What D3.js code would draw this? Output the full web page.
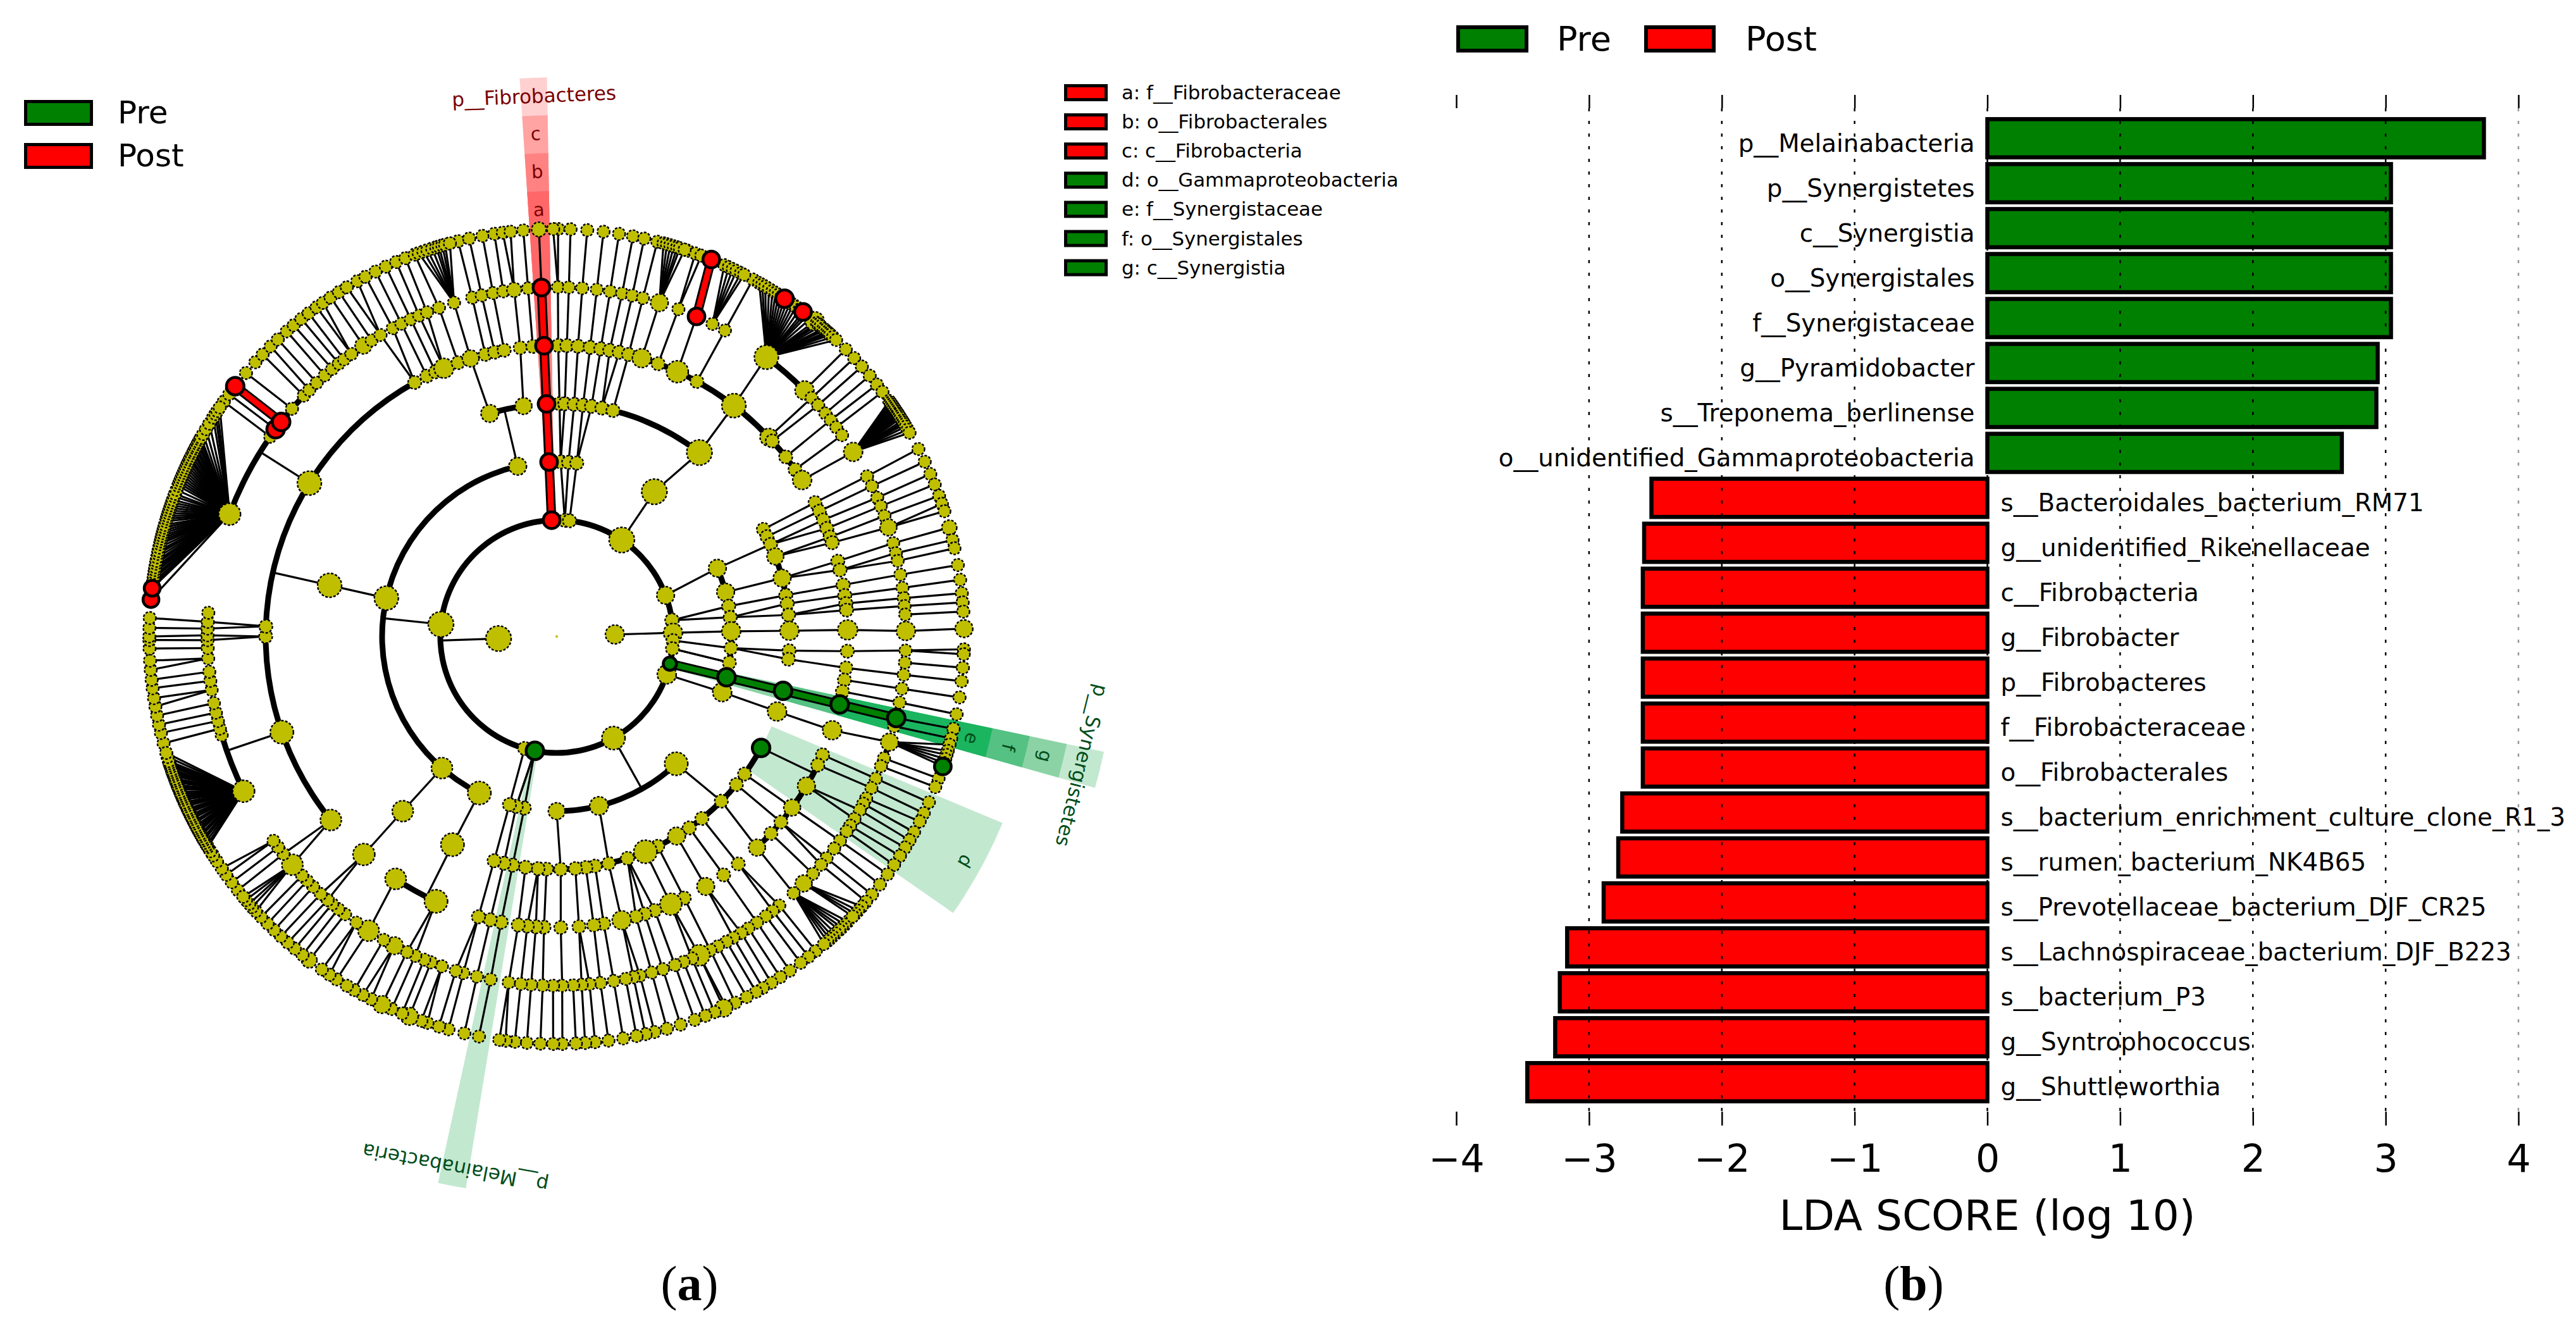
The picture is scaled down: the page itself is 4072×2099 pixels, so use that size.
<!DOCTYPE html>
<html><head><meta charset="utf-8">
<script src="https://cdn.jsdelivr.net/npm/d3@7/dist/d3.min.js"></script>
<style>
html,body{margin:0;padding:0;background:#fff}
svg{display:block}
text{font-family:"DejaVu Sans",sans-serif}
</style></head><body>
<svg id="chart" width="4072" height="2099" viewBox="0 0 4072 2099"></svg>
<script>
// ---------- (b) LDA bar chart data ----------
const barNames = ["p__Melainabacteria","p__Synergistetes","c__Synergistia","o__Synergistales","f__Synergistaceae","g__Pyramidobacter","s__Treponema_berlinense","o__unidentified_Gammaproteobacteria","s__Bacteroidales_bacterium_RM71","g__unidentified_Rikenellaceae","c__Fibrobacteria","g__Fibrobacter","p__Fibrobacteres","f__Fibrobacteraceae","o__Fibrobacterales","s__bacterium_enrichment_culture_clone_R1_3","s__rumen_bacterium_NK4B65","s__Prevotellaceae_bacterium_DJF_CR25","s__Lachnospiraceae_bacterium_DJF_B223","s__bacterium_P3","g__Syntrophococcus","g__Shuttleworthia"];
const barScores = [3.74,3.04,3.04,3.04,3.04,2.94,2.93,2.67,-2.53,-2.585,-2.595,-2.595,-2.595,-2.595,-2.595,-2.75,-2.78,-2.89,-3.165,-3.22,-3.255,-3.465];
const xTicks = [-4,-3,-2,-1,0,1,2,3,4];
const groupNames = ["Pre","Post"];
const cladeKey = [["a: f__Fibrobacteraceae","Post"],["b: o__Fibrobacterales","Post"],["c: c__Fibrobacteria","Post"],["d: o__Gammaproteobacteria","Pre"],["e: f__Synergistaceae","Pre"],["f: o__Synergistales","Pre"],["g: c__Synergistia","Pre"]];

// ---------- (a) cladogram data: taxon angle (degrees clockwise from the top) per rank ----------
const rootTaxa = [0];
const kingdoms = [88,268];
const phyla = [357.5,4,6.3,34,69.3,82,88.2,92,96,103.5,109,150.8,190.8,196,276];
const classes = [357.5,1.3,3.9,6.6,34,67,75.3,80,83.7,88.3,93.8,98.6,103.5,108.6,136.8,166,180,190.7,193.4,195.7,206.3,221.1,282.7,347.1];
const orders = [357.5,0.7,2,4.3,6.5,8.6,11.2,14,37.8,62.6,64.6,66.7,69.9,75.5,79.8,81.9,84.7,88.6,93.5,95.6,103.5,108.8,118.6,126.2,129.5,135,141.4,145.3,149,154.3,157.6,162.3,167.1,170.5,172.8,175.4,179,182.5,184.6,187.7,190.9,193.1,195.6,206.6,221.4,282.7,343.3,351.8];
const families = [357.5,0.3,2,4.2,6.6,8.7,10.5,12.4,14.3,17,20.4,24.5,28.8,37.5,46.8,47.8,51.9,55,57.5,62.6,64.5,66.4,68.2,70,71.2,75,76.8,79.8,81.9,83.5,84.8,88.7,92.9,96.2,98.6,100.9,103.5,108.8,114,116.2,120.9,126,129.6,132.6,136.5,141.4,145,149.2,154,156.9,160.3,162.4,164.2,167.1,170.7,172.7,175.6,179.2,182.5,184.1,185.8,187.6,191,193.2,195.6,204.5,213.6,221.5,230.9,250.8,270,272,301.8,330.8,333.5,335.4,337.2,340.2,342.8,345.8,347.7,349.6,352.8,355.3];
const genera = [357.5,0.2,2,4.2,6.6,8.8,10.8,12.5,14.3,17.1,20.4,23.6,26.5,28.8,36.9,45.2,46.9,48.5,50.3,51.7,53.2,54.8,58.1,62.7,64.5,66.6,68.1,69.8,71.8,74.5,76.2,77.5,79.8,82,83.7,85,86.4,89.1,92.3,94.3,96.3,98.6,100.9,103.5,104.9,107.6,110.4,111.8,114,115.7,117.6,118.6,119.8,121.5,122.8,123.9,125.8,127.4,129.4,130.8,132.8,135,137.3,140.4,141.8,143.2,145,146.7,148.1,149.6,150.9,152.5,153.9,155.9,157.2,158.7,160.2,162.3,164.2,166.2,167.3,168.6,170.6,172.8,174.6,175.9,177.3,179.1,180.6,182.3,184.2,185.9,187.9,190.9,193.2,195.5,196.8,199.2,201.1,202.3,203.9,205.4,207.7,209.7,212.6,215,217.3,218.7,220,221,222.5,224.2,225.6,226.8,229.2,231.5,232.9,234.2,243.7,253.6,254.7,256,257.4,259,261.2,262.7,264.2,266.4,268.1,269.4,270.2,271.3,272.4,273.9,290.5,304.9,306.4,307.9,310.7,313.6,314.9,316.6,318.4,320,321.4,322.5,324,326.4,328,329.7,332,333.6,335.3,336.8,338.2,340.3,342.9,346,347.6,349.5,351.2,353,355.3];
const species = [357.5,0.2,1.95,4.3,6.6,8.8,10.8,12.4,14.3,18.8,19.9,20.8,22.3,28.8,45.2,46.9,48.5,50.2,51.8,53.1,62.6,64.6,66.5,68.1,69.8,71,72.1,74.5,76.3,77.5,79.9,82,83.9,85.2,86.5,88.9,91.8,92.5,94.4,96.3,98.6,101,103.1,104.5,110.4,111.7,114,115.7,117,118.7,120,121.2,122.6,124.1,125.7,127.5,129.3,130.6,140.5,141.8,143.2,145.1,146.7,148.2,149.6,150.7,152.2,154,155.4,155.8,157.2,158.6,160.2,162.3,164.3,166.1,167.4,168.7,170.6,172.7,174.6,176,177.3,179.2,180.5,182.3,184.2,185.9,187.2,188.1,191,193.1,195.4,196.8,198.5,199.4,201.2,202.3,203.9,205.4,207.1,208.4,209.8,211,212.7,213.9,215.2,217.4,218.6,220,221.3,222.6,223.9,225.2,226.5,231.5,232.9,234.2,235.3,236.5,237.5,238.2,254.8,256.3,257.5,258.8,260.1,261.3,262.7,263.9,265.3,266.6,268.3,269.5,270,271.2,272.6,305.2,306.5,307.9,310.3,312.3,313.8,315.4,316.8,318.5,319.8,321.2,322.5,323.9,325,326.3,327.7,329,330.7,332,333.6,335.2,336.8,338.2,339.6,346,347.6,349.5,351.2,352.4,353.5,355.3,359.5];
// genus angle, then the species angles fanning out of it
const speciesFans = [
 [290.5,[275.2,276.8,277.2,277.6,278.1,278.5,279,279.4,279.8,280.3,280.7,281.2,281.7,282.1,282.6,283.1,283.5,283.9,284.3,284.7,285.1,285.5,285.9,286.4,286.8,287.2,287.6,288,288.4,288.8,289.2,289.6,290.1,290.5,291.1,291.7,292.1,292.5,292.9,293.3,293.7,294.1,294.5,294.9,295.3,295.7,296,296.4,296.8,297.1,297.5,297.8,298.2,298.5,298.9,299.2,299.8,300.6,301.5,302.5,303.1,303.6,304.2]],
 [243.7,[238.9,239.2,239.6,240,240.3,240.7,241,241.4,241.7,242,242.3,242.7,243,243.4,243.7,244,244.4,244.7,245,245.4,245.7,246,246.4,246.7,247,247.3,247.6,248,248.3,248.6,249,249.3,249.6,250,250.3,250.6,250.9,251.3,251.6,251.9,252.2,252.8,253.4]],
 [36.9,[29.8,30.3,30.8,31.4,32,32.5,33,33.5,34,34.5,35,35.5,36,36.6,37.2,37.6,38,38.6,39.3,39.7,40,40.4,40.9,41.2,41.6,41.9,42.2,42.7,43.3]],
 [58.1,[54.7,55,55.3,55.6,55.9,56.2,56.5,56.8,57,57.3,57.6,58,58.3,58.6,59,59.5,60]],
 [137.3,[134.4,135,135.6,136.1,136.8,137.4,137.9,138.4,139]],
 [135,[131.5,132.3,132.9,133.4]],
 [107.6,[105.4,106.3,106.9,107.5,108.1,108.6]],
 [229.2,[227.6,228.4,229,229.7,230.3]],
 [342.9,[340.2,340.9,341.5,342.2,342.8,343.2,343.7,344.1,344.8]],
 [17.1,[15.2,15.7,16.2,16.7,17.2,17.6,18.3]],
 [26.5,[24.3,25,25.6,26.2,26.9,27.4]]
];
// branches the nearest-angle rule cannot find: parent rank, parent angle, child angle
const extraBranches = [[1,268,268],[2,276,276],[2,150.8,150.8],[3,347.1,347],[3,34,37.8],[2,190.8,193.4],[2,96,98.6],[4,118.6,118],[4,282.7,282.7],[4,206.6,206.6],[5,301.8,301.9],[5,250.8,250.9],[5,230.9,229.2]];
// sibling arcs: rank, from angle, to angle
const siblingArcs = [[2,0,360],[3,206.3,347.1],[3,67,109],[3,136.8,180],[3,190.7,195.7],[3,357.5,366.6],[4,0.7,37.8],[4,343.3,351.8],[4,62.6,88.6],[4,118.6,195.6],[5,0.3,57.5],[5,204.5,213.6],[5,230.9,330.8],[5,114,136.5],[6,36.9,45.2],[6,290.5,329],[6,243.7,253.6],[6,107.6,111.8]];
// relative abundance class of the taxa that are larger than the rest: rank, angle, class
const abundance = [[1,88,2.5],[1,268,4],[2,34,4],[2,276,4],[2,150.8,3.5],[2,69.3,2.2],[2,88.2,2.5],[2,109,2.5],[2,82,1.3],[2,190.8,2.2],[2,357.5,2],
 [3,34,4],[3,282.7,3.7],[3,221.1,3],[3,206.3,3.5],[3,136.8,3.5],[3,166,2.4],[3,347.1,2.2],[3,88.3,2.5],[3,67,2.2],[3,75.3,2.2],[3,108.6,2.5],[3,103.5,2.2],[3,357.5,2],[3,180,2],
 [4,37.8,4],[4,282.7,3.7],[4,206.6,3.5],[4,221.4,3],[4,157.6,3.5],[4,149,2.2],[4,75.5,2.2],[4,69.9,2],[4,88.6,2.5],[4,343.3,2.2],[4,351.8,2],[4,118.6,2.2],[4,108.8,2.5],[4,103.5,2.2],[4,357.5,2],
 [5,37.5,3.7],[5,24.5,3.2],[5,17,2.5],[5,57.5,2.5],[5,46.8,2.2],[5,88.7,2.7],[5,108.8,2.5],[5,120.9,2.2],[5,126,2],[5,136.5,2],[5,149.2,2.2],[5,156.9,3.2],[5,167.1,2.5],[5,204.5,3.5],[5,213.6,3],[5,221.5,3.2],[5,230.9,3],[5,250.8,3.5],[5,301.8,3.7],[5,337.2,2.7],[5,342.8,2],[5,103.5,2.2],[5,357.5,2],
 [6,36.9,3.7],[6,45.2,2.5],[6,58.1,2.5],[6,17.1,2.2],[6,71.8,2],[6,89.1,2.5],[6,243.7,3.2],[6,290.5,3.2],[6,229.2,3],[6,212.6,3],[6,207.7,2.2],[6,135,2],[6,155.9,3],[6,107.6,2.2],[6,326.4,2],[6,353,1.5],[6,103.5,2.2],[6,357.5,2],[6,23.6,2],[6,306.4,2.2],[6,307.9,2.2],
 [7,88.9,2.2],[7,39.3,2.5],[7,74.5,1.6],[7,205.4,2.2],[7,201.2,2.2],[7,217.4,1.7],[7,155.8,2.2],[7,357.5,1.5],[7,22.3,2],[7,34,2.2],[7,37.2,2],[7,307.9,2.2],[7,275.2,1.8],[7,276.8,1.8],[7,108.6,2]];
const enrichedPost = [[2,357.5],[3,357.5],[4,357.5],[5,357.5],[6,357.5],[6,23.6],[7,22.3],[7,34],[7,37.2],[7,307.9],[6,306.4],[6,307.9],[7,275.2],[7,276.8]];
const enrichedPre = [[2,103.5],[3,103.5],[4,103.5],[5,103.5],[6,103.5],[7,108.6],[4,118.6],[2,190.8]];
// enriched branches: parent rank, parent angle, child angle
const enrichedPostBranches = [[2,357.5,357.5],[3,357.5,357.5],[4,357.5,357.5],[5,357.5,357.5],[6,23.6,22.3],[6,307.9,307.9]];
const enrichedPreBranches = [[2,103.5,103.5],[3,103.5,103.5],[4,103.5,103.5],[5,103.5,103.5]];
// highlighted clades: group, rank, label bands, angle, half spread, tone
const cladeShades = [
 ["Post",2,4,357.6,1.4,0],["Post",3,3,357.6,1.4,1],["Post",4,2,357.6,1.4,2],["Post",5,1,357.6,1.4,3],
 ["Pre",2,4,103.8,1.9,0],["Pre",3,3,103.8,1.9,1],["Pre",4,2,103.8,1.9,2],["Pre",5,1,103.8,1.9,3],
 ["Pre",2,4,190.8,1.45,0],["Pre",4,2,118.8,6.1,0]
];
const cladeLetters = [["Post","a",357.6,0.52],["Post","b",357.6,1.52],["Post","c",357.6,2.52],["Pre","e",103.8,0.52],["Pre","f",103.8,1.52],["Pre","g",103.8,2.52],["Pre","d",118.8,1.55]];
const cladeNames = [["Post","p__Fibrobacteres",357.6],["Pre","p__Synergistetes",103.8],["Pre","p__Melainabacteria",190.8]];

// ---------- drawing ----------
const svg = d3.select("#chart");
const FILL = {Pre:"#008000",Post:"#ff0000"};
const tones = {Post:["#ffd0d0","#ffa3a3","#ff8282","#ff6868"],Pre:["#c3e8d0","#8bd3a5","#55c183","#1bb55f"]};
const INK = {Post:"#7a0000",Pre:"#004d1a"};
const legendSwatch = (g,x,y,w,h,group,sw)=>g.append("rect").attr("x",x+sw/2).attr("y",y+sw/2).attr("width",w-sw).attr("height",h-sw).attr("fill",FILL[group]).attr("stroke","#000").attr("stroke-width",sw);

// cladogram
const rank = d3.scaleLinear().domain([0,7]).range([0,644]);
const deg = d3.scaleLinear().domain([0,360]).range([0,2*Math.PI]);
const band = d3.scaleLinear().domain([0,4]).range([644,884]);
const nodeR = d3.scaleLinear().domain([0,1,4]).range([2,9.8,20]);
const pos = (r,a)=>d3.pointRadial(deg(a),rank(r));
const clad = svg.append("g").attr("transform","translate(880,1006)");
const arcGen = d3.arc();

clad.append("g").selectAll("path").data(cladeShades).join("path")
 .attr("fill",d=>tones[d[0]][d[5]])
 .attr("d",d=>arcGen({innerRadius:rank(d[1]),outerRadius:band(d[2]),startAngle:deg(d[3]-d[4]),endAngle:deg(d[3]+d[4])}));

const ranks = [rootTaxa,kingdoms,phyla,classes,orders,families,genera,species];
const tol = [0,0,1,3,2,2,1.3,1.3];
const adiff = (a,b)=>{const d=Math.abs(a-b)%360;return d>180?360-d:d;};
const branches = [];
ranks.forEach((list,r)=>{ if(r<2) return;
 list.forEach(a=>{
  const p = d3.least(ranks[r-1],q=>adiff(q,a));
  if(adiff(p,a)<=tol[r]) branches.push([r-1,p,a]);
 });
});
extraBranches.forEach(b=>branches.push(b));
speciesFans.forEach(([g,kids])=>kids.forEach(k=>branches.push([6,g,k])));
const seg = (sel,data,w,col)=>sel.append("g").selectAll("line").data(data).join("line")
 .attr("x1",d=>pos(d[0],d[1])[0]).attr("y1",d=>pos(d[0],d[1])[1])
 .attr("x2",d=>pos(d[0]+1,d[2])[0]).attr("y2",d=>pos(d[0]+1,d[2])[1])
 .attr("stroke",col).attr("stroke-width",w);
seg(clad,branches,3.2,"#000");
clad.append("g").selectAll("path").data(siblingArcs).join("path").attr("fill","#000")
 .attr("d",d=>arcGen({innerRadius:rank(d[0])-4.5,outerRadius:rank(d[0])+4.5,startAngle:deg(d[1]),endAngle:deg(d[2])}));

const sizeOf = new Map(abundance.map(d=>[d[0]+"|"+d[1],d[2]]));
const nodes = [];
ranks.forEach((list,r)=>list.forEach(a=>nodes.push([r,a])));
speciesFans.forEach(([g,kids])=>kids.forEach(k=>nodes.push([7,k])));
const radius = d=>{ if(d[0]===0) return nodeR(0); return nodeR(sizeOf.get(d[0]+"|"+d[1])||1+ (d[0]<6?0.2:0)); };
clad.append("g").selectAll("circle").data(nodes).join("circle")
 .attr("cx",d=>pos(d[0],d[1])[0]).attr("cy",d=>pos(d[0],d[1])[1]).attr("r",radius)
 .attr("fill","#bfbf00").attr("stroke",d=>d[0]===0?"none":"#000").attr("stroke-width",2.4).attr("stroke-dasharray","4 2.5");

const enrichedLayer = clad.append("g");
[[enrichedPostBranches,"Post"],[enrichedPreBranches,"Pre"]].forEach(([b,g])=>{
 seg(enrichedLayer,b,15,"#000");
 seg(enrichedLayer,b,9,FILL[g]);
});
[[enrichedPost,"Post"],[enrichedPre,"Pre"]].forEach(([list,g])=>{
 enrichedLayer.append("g").selectAll("circle").data(list).join("circle")
  .attr("cx",d=>pos(d[0],d[1])[0]).attr("cy",d=>pos(d[0],d[1])[1]).attr("r",radius)
  .attr("fill",FILL[g]).attr("stroke","#000").attr("stroke-width",4.5);
});
const polarText = (sel,data,r,size)=>sel.append("g").selectAll("text").data(data).join("text")
 .attr("transform",d=>{const [x,y]=d3.pointRadial(deg(d[2]),r(d));return `translate(${x},${y}) rotate(${d[2]>270?d[2]-360:d[2]})`;})
 .attr("text-anchor","middle").attr("dominant-baseline","central").attr("font-size",size)
 .attr("fill",d=>INK[d[0]]).text(d=>d[1]);
polarText(clad,cladeLetters,d=>band(d[3]),29);
polarText(clad,cladeNames,()=>855,31);

// legends of panel (a)
groupNames.forEach((g,i)=>{
 const y = [158,226][i];
 legendSwatch(svg,38,y,109,41,g,5);
 svg.append("text").attr("x",186).attr("y",[195,263][i]).attr("font-size",50).text(g);
});
cladeKey.forEach((d,i)=>{
 const y = 133+i*46.1;
 legendSwatch(svg,1682,y,69,27,d[1],5);
 svg.append("text").attr("x",1773).attr("y",y+24).attr("font-size",30.8).text(d[0]);
});

// panel (b)
const x = d3.scaleLinear().domain([-4,4]).range([2302,3981]);
const y = d3.scaleBand().domain(barNames).range([183,1746]).paddingInner(0.15).paddingOuter(0.075);
const bars = svg.append("g");
bars.selectAll("rect").data(barNames).join("rect")
 .attr("x",(d,i)=>x(Math.min(0,barScores[i]))).attr("y",d=>y(d))
 .attr("width",(d,i)=>Math.abs(x(barScores[i])-x(0))).attr("height",y.bandwidth())
 .attr("fill",(d,i)=>barScores[i]>0?FILL.Pre:FILL.Post).attr("stroke","#000").attr("stroke-width",6.5);
const gridVals = xTicks.slice(1);
svg.append("g").selectAll("line").data(gridVals).join("line")
 .attr("x1",d=>x(d)).attr("x2",d=>x(d)).attr("y1",171).attr("y2",1757)
 .attr("stroke",d=>d===4?"#999":"#000").attr("stroke-width",2.5).attr("stroke-dasharray","5 15");
const topAxis = svg.append("g").attr("transform","translate(0,150)").call(d3.axisBottom(x).tickValues(xTicks).tickSize(21).tickFormat(""));
const botAxis = svg.append("g").attr("transform","translate(0,1757)").call(d3.axisBottom(x).tickValues(xTicks).tickSize(22).tickPadding(30));
[topAxis,botAxis].forEach(a=>{a.select(".domain").remove();a.selectAll(".tick line").attr("stroke-width",2.5);});
botAxis.selectAll("text").attr("font-size",60).attr("font-family","DejaVu Sans").attr("fill","#000");
svg.append("g").selectAll("text").data(barNames).join("text")
 .attr("x",(d,i)=>barScores[i]>0?x(0)-20:x(0)+21)
 .attr("y",d=>y(d)+y.bandwidth()/2+21)
 .attr("text-anchor",(d,i)=>barScores[i]>0?"end":"start")
 .attr("font-size",38.8).text(d=>d);
svg.append("text").attr("x",x(0)).attr("y",1944).attr("text-anchor","middle").attr("font-size",66).text("LDA SCORE (log 10)");
groupNames.forEach((g,i)=>{
 legendSwatch(svg,[2302,2599][i],40,[114,113][i],43,g,6);
 svg.append("text").attr("x",[2461,2759][i]).attr("y",80).attr("font-size",54).text(g);
});

// panel captions
[["a",1090],["b",3025]].forEach(([c,px])=>{
 const t = svg.append("text").attr("x",px).attr("y",2055).attr("text-anchor","middle").attr("font-size",78).attr("style",'font-family:"Liberation Serif",serif');
 t.append("tspan").text("(");
 t.append("tspan").attr("font-weight","bold").text(c);
 t.append("tspan").text(")");
});
</script>
</body></html>
